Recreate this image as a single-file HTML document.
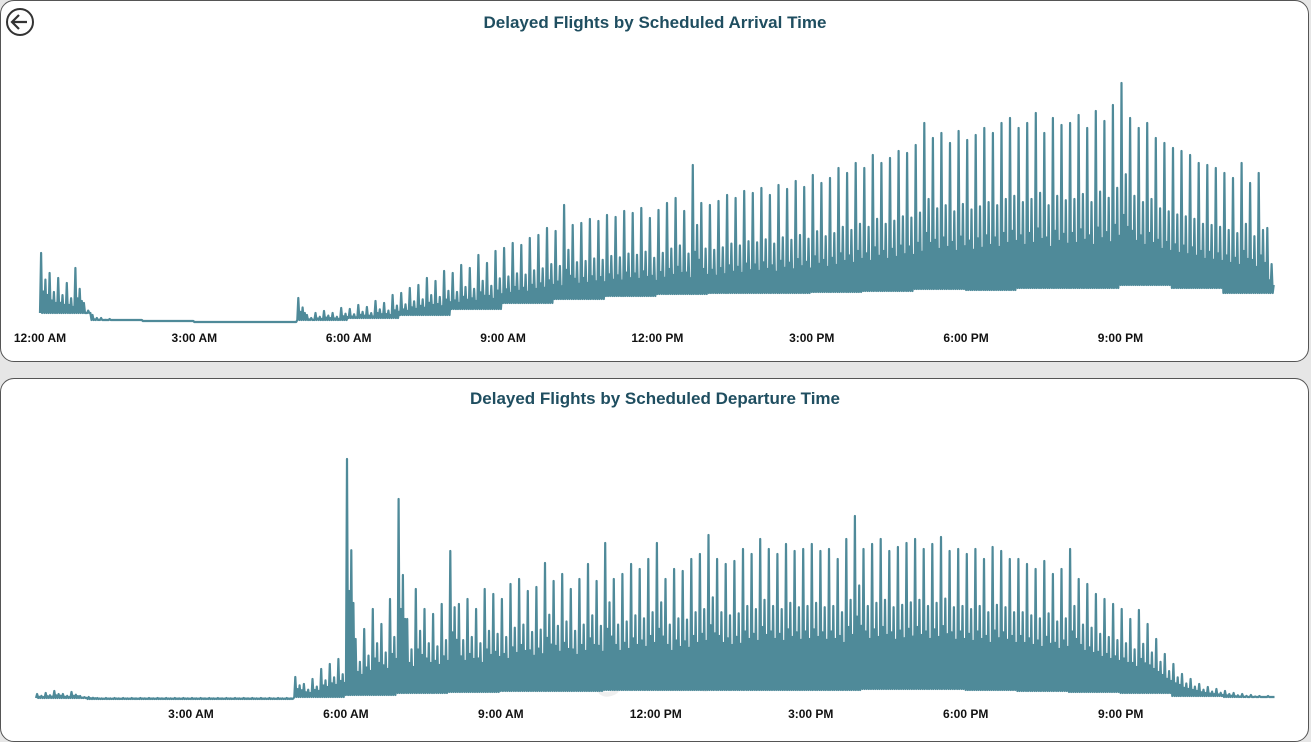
<!DOCTYPE html>
<html><head><meta charset="utf-8"><style>
body{margin:0;width:1311px;height:736px;overflow:hidden;background:#e6e6e6;font-family:"Liberation Sans",sans-serif;}
.panel{position:absolute;left:0;width:1307px;background:#fff;border:1px solid #555;border-radius:14px;}
svg{position:absolute;left:0;top:0}
</style></head><body>
<div class="panel" style="top:0;height:360px"></div>
<div class="panel" style="top:378px;height:362px"></div>
<svg width="1311" height="736">
<g><circle cx="20" cy="22" r="13" fill="#fff" stroke="#333" stroke-width="2"/><path d="M27 22H13M19 15l-7 7 7 7" fill="none" stroke="#333" stroke-width="2.2"/></g>
<text x="655" y="28" text-anchor="middle" font-size="17" font-weight="bold" fill="#1f4e60">Delayed Flights by Scheduled Arrival Time</text>
<text x="655" y="404" text-anchor="middle" font-size="17" font-weight="bold" fill="#1f4e60">Delayed Flights by Scheduled Departure Time</text>
<text x="655" y="690" text-anchor="middle" font-size="40" font-weight="bold" fill="#000" opacity="0.06">مستقل</text>
<g id="g1"></g><g id="g2"></g>
</svg>
<script>
const tickLabels1=["12:00 AM","3:00 AM","6:00 AM","9:00 AM","12:00 PM","3:00 PM","6:00 PM","9:00 PM"];
const tickHours1=[0,3,6,9,12,15,18,21];
const tickLabels2=["3:00 AM","6:00 AM","9:00 AM","12:00 PM","3:00 PM","6:00 PM","9:00 PM"];
const tickHours2=[3,6,9,12,15,18,21];
const arrivalPeaks=[70,50,45,40,55,20, 8,5,4,3,3,3, 2,2,2,2,2,2, 1,1,1,1,1,1, 1,1,1,1,1,1,
25,8,10,12,10,15, 14,18,16,22,20,28, 30,35,38,45,42,52, 50,58,55,68,60,72, 75,80,78,85,88,95,
92,118,98,100,104,102, 108,106,112,110,115,105, 113,120,125,112,158,120, 118,122,128,125,132,130,
135,128,138,134,142,136, 148,140,145,155,150,160, 155,168,160,165,172,170, 178,200,185,190,180,192,
183,188,195,190,200,205, 195,200,210,190,205,198, 200,208,195,212,202,218, 240,205,195,200,185,180,
175,172,168,160,158,155, 150,145,160,140,150,95];
const arrivalTroughs=[10,3,2,1,1,3,5,8,14,20,24,27,29,30,30,31,32,34,33,35,35,38,35,30];
const departurePeaks=[5,6,8,5,7,3, 2,1,1,1,1,1, 1,1,1,1,1,1, 1,1,1,1,1,1, 1,1,1,1,1,1,
22,15,20,30,35,40, 240,60,70,90,75,100, 200,80,110,90,85,95, 148,95,100,90,110,105,
100,115,120,108,112,136, 118,125,110,120,135,118, 156,120,125,135,130,140, 156,120,130,128,140,145,
164,140,135,138,150,145, 160,150,145,155,148,150, 155,148,150,140,160,183, 150,155,160,148,152,156,
160,150,155,162,148,150, 145,150,140,152,148,140, 140,135,130,138,125,130, 150,120,115,105,100,95,
90,80,89,75,60,45, 35,25,20,15,12,10, 8,6,5,4,3,3];
const departureTroughs=[1,0,0,0,0,2,4,6,7,8,8,9,9,9,9,9,10,10,9,8,7,6,3,2];
const subShape=[1,0.45,0.62,0.4];

function draw(gid,x0,pxPerHour,base,peaks,troughs,labels,hours,labelY,name){
  const g=document.getElementById(gid);
  const xs=h=>x0+h*pxPerHour, ys=v=>base-v;
  let pts=[];
  peaks.forEach((p,i)=>{
    const h=i/6, t=troughs[Math.floor(h)];
    subShape.forEach((f,k)=>{
      const hh=h+k/24;
      pts.push(xs(hh).toFixed(1)+","+ys(t).toFixed(1));
      pts.push(xs(hh+1/48).toFixed(1)+","+ys(Math.max(t,p*f)).toFixed(1));
    });
  });
  const pl=document.createElementNS("http://www.w3.org/2000/svg","polyline");
  pl.setAttribute("points",pts.join(" "));
  pl.setAttribute("fill","none");pl.setAttribute("stroke","#4f8a99");pl.setAttribute("stroke-width","2.2");pl.setAttribute("stroke-linejoin","round");
  
  
  g.appendChild(pl);
  labels.forEach((l,i)=>{
    const t=document.createElementNS("http://www.w3.org/2000/svg","text");
    t.setAttribute("x",xs(hours[i]));t.setAttribute("y",labelY);t.setAttribute("text-anchor","middle");
    t.setAttribute("font-size","12");t.setAttribute("font-weight","bold");t.setAttribute("fill","#111");
    t.textContent=l;
    
    
    g.appendChild(t);
  });
}
draw("g1",40,51.45,323,arrivalPeaks,arrivalTroughs,tickLabels1,tickHours1,342,"arrival");
draw("g2",36,51.65,699,departurePeaks,departureTroughs,tickLabels2,tickHours2,718,"departure");
</script>
</body></html>
